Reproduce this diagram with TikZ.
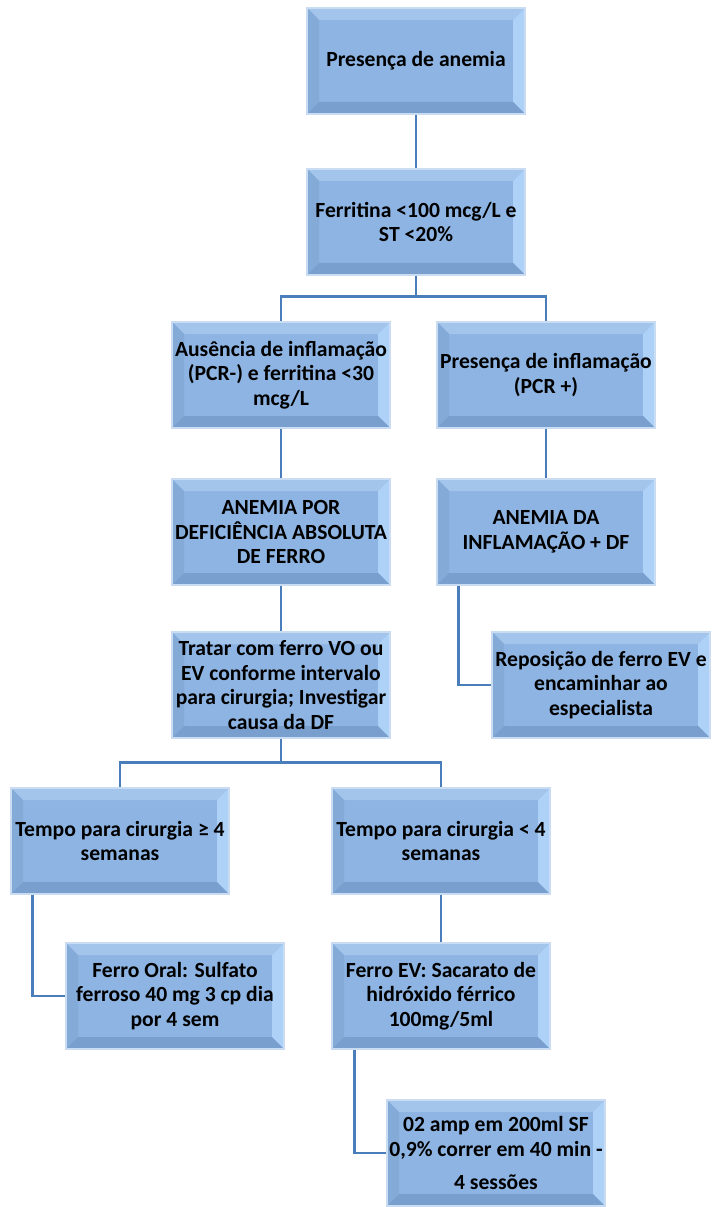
\documentclass[tikz,border=0pt]{standalone}
\usepackage{fontspec}
\setmainfont{Carlito}
\usetikzlibrary{positioning,calc}

\definecolor{boxfill}{HTML}{8DB4E2}
\definecolor{boxtop}{HTML}{A3C4EB}
\definecolor{boxleft}{HTML}{84AAD8}
\definecolor{boxright}{HTML}{ADD1F7}
\definecolor{boxbottom}{HTML}{789FCE}
\definecolor{boxedge}{HTML}{C9DCF1}
\definecolor{linkblue}{HTML}{4A7EBB}

\tikzset{
  bevelbox/.style={draw=boxedge, line width=0.8pt, fill=boxfill,
    minimum width=4.36cm, minimum height=2.12cm, inner sep=1pt,
    align=center, font=\fontsize{12.3}{14}\selectfont\bfseries,
    path picture={
      \coordinate (nw) at (path picture bounding box.north west);
      \coordinate (ne) at (path picture bounding box.north east);
      \coordinate (sw) at (path picture bounding box.south west);
      \coordinate (se) at (path picture bounding box.south east);
      \fill[boxtop] (nw) -- (ne) -- ++(-0.24,-0.24) -- ($(nw)+(0.24,-0.24)$) -- cycle;
      \fill[boxleft] (nw) -- (sw) -- ++(0.24,0.24) -- ($(nw)+(0.24,-0.24)$) -- cycle;
      \fill[boxright] (ne) -- (se) -- ++(-0.24,0.24) -- ($(ne)+(-0.24,-0.24)$) -- cycle;
      \fill[boxbottom] (sw) -- (se) -- ++(-0.24,0.24) -- ($(sw)+(0.24,0.24)$) -- cycle;
    }},
  link/.style={draw=linkblue, line width=1.4pt}
}

\begin{document}
\begin{tikzpicture}
\useasboundingbox (0,0) rectangle (14.22,-24.14);

% Boxes
\node[bevelbox] (anemia) at (8.32,-1.22) {Presença de anemia};
\node[bevelbox] (ferritina) at (8.32,-4.44) {Ferritina <100 mcg/L e\\ST <20\%};
\node[bevelbox] (semInfl) at (5.62,-7.50) {Ausência de inflamação\\(PCR-) e ferritina <30\\mcg/L};
\node[bevelbox] (comInfl) at (10.92,-7.50) {Presença de inflamação\\(PCR +)};
\node[bevelbox] (absoluta) at (5.62,-10.64) {ANEMIA POR\\DEFICIÊNCIA ABSOLUTA\\DE FERRO};
\node[bevelbox] (inflDF) at (10.92,-10.64) {ANEMIA DA\\INFLAMAÇÃO + DF};
\node[bevelbox] (reposicao) at (12.02,-13.70) {Reposição de ferro EV e\\encaminhar ao\\especialista};
\node[bevelbox] (tratar) at (5.62,-13.70) {Tratar com ferro VO ou\\EV conforme intervalo\\para cirurgia; Investigar\\causa da DF};
\node[bevelbox] (tempoMaior) at (2.40,-16.82) {Tempo para cirurgia ≥ 4\\semanas};
\node[bevelbox] (tempoMenor) at (8.82,-16.82) {Tempo para cirurgia < 4\\semanas};
\node[bevelbox] (ferroOral) at (3.50,-19.92) {Ferro Oral: Sulfato\\ferroso 40 mg 3 cp dia\\por 4 sem};
\node[bevelbox] (ferroEV) at (8.82,-19.92) {Ferro EV: Sacarato de\\hidróxido férrico\\100mg/5ml};
\node[bevelbox] (sessoes) at (9.92,-23.06) {02 amp em 200ml SF\\0,9\% correr em 40 min -\\[5pt]4 sessões};

% Connectors
\draw[link] (anemia) -- (ferritina);
\coordinate (split1) at ([yshift=-0.42cm]ferritina.south);
\draw[link] (ferritina.south) -- (split1) -| (semInfl.north);
\draw[link] (split1) -| (comInfl.north);
\draw[link] (semInfl) -- (absoluta);
\draw[link] (comInfl) -- (inflDF);
\draw[link] (absoluta) -- (tratar);
\draw[link] ([xshift=0.44cm]inflDF.south west) |- (reposicao.west);
\coordinate (split2) at ([yshift=-0.48cm]tratar.south);
\draw[link] (tratar.south) -- (split2) -| (tempoMaior.north);
\draw[link] (split2) -| (tempoMenor.north);
\draw[link] ([xshift=0.44cm]tempoMaior.south west) |- (ferroOral.west);
\draw[link] (tempoMenor) -- (ferroEV);
\draw[link] ([xshift=0.46cm]ferroEV.south west) |- (sessoes.west);
\end{tikzpicture}
\end{document}
